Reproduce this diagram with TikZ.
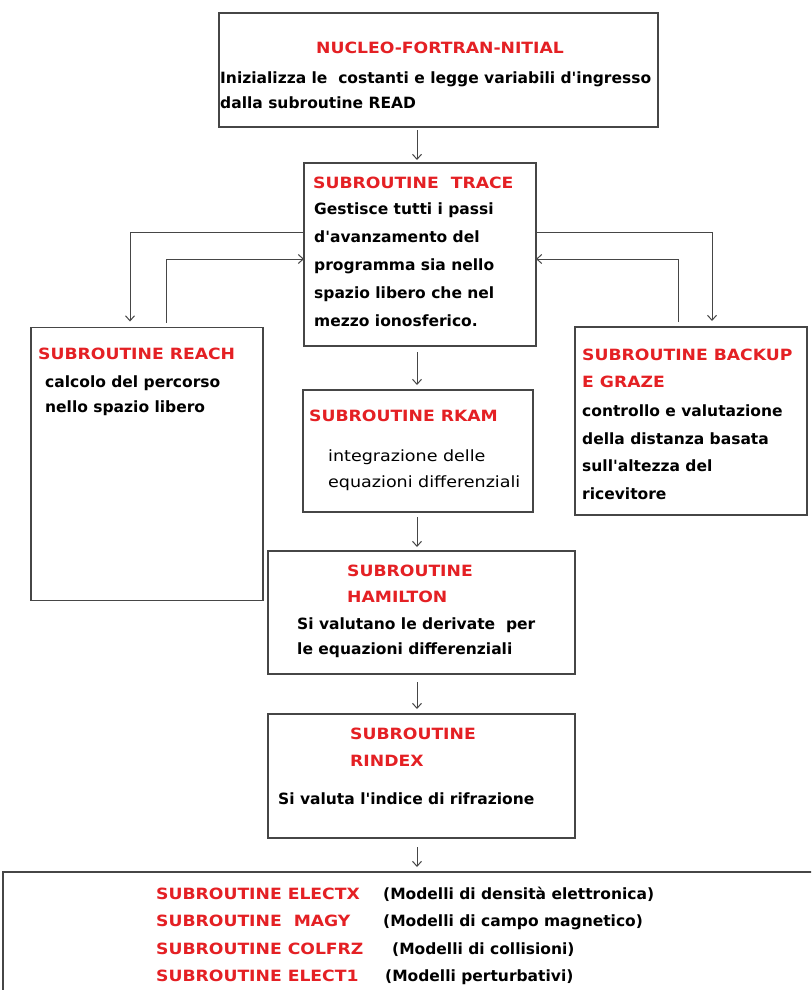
\documentclass[tikz,border=0pt]{standalone}
\usepackage{fontspec}
\setmainfont{DejaVu Sans}
\newfontfamily\ttlfont{DejaVu Sans}[FakeStretch=1.11]
\newfontfamily\regfont{DejaVu Sans}[FakeStretch=1.13]
\usetikzlibrary{arrows.meta}
\definecolor{redt}{RGB}{228,32,36}
\definecolor{linec}{RGB}{70,70,70}
\newcommand{\aq}{\textquotesingle}
\begin{document}
\begin{tikzpicture}[x=1pt,y=-1pt,
 box/.style={draw=linec,line width=1.5pt,inner sep=0pt,outer sep=0pt,fill=white},
 tl/.style={anchor=west,inner sep=0pt,text height=12pt,text depth=3pt},
 ttl/.style={tl,text=redt,font=\fontsize{15.5}{18}\ttlfont\bfseries},
 txt/.style={tl,text=black,font=\fontsize{15.5}{18}\selectfont\bfseries},
 rtxt/.style={tl,text=black,font=\fontsize{15.5}{18}\regfont},
 arr/.style={draw=linec,line width=1pt,-{Straight Barb[length=5pt,width=9pt]}},
 ]
\useasboundingbox (0,0) rectangle (811,990);
\fill[white] (0,0) rectangle (811,990);
% boxes
\node[box,minimum width=439pt,minimum height=114pt] (nucleo) at (438.5,70) {};
\node[box,minimum width=232pt,minimum height=183pt] (trace) at (420,254.5) {};
\node[box,minimum width=232pt,minimum height=273pt] (reach) at (147,464) {};
\node[box,minimum width=232pt,minimum height=188pt] (backup) at (691,421) {};
\node[box,minimum width=230pt,minimum height=122pt] (rkam) at (418,451) {};
\node[box,minimum width=307pt,minimum height=123pt] (hamilton) at (421.5,612.5) {};
\node[box,minimum width=307pt,minimum height=124pt] (rindex) at (421.5,776) {};
\begin{scope}
\clip (0,0) rectangle (811,990);
\node[box,minimum width=814pt,minimum height=140pt] (bottom) at (410,942) {};
\end{scope}
% texts
\node[ttl,anchor=center] (t1) at (440,49) {NUCLEO-FORTRAN-NITIAL};
\node[txt] (t2) at (220,79) {Inizializza le\ \ costanti e legge variabili d\aq ingresso};
\node[txt] (t3) at (220,104) {dalla subroutine READ};

\node[ttl] (tr0) at (313,184) {SUBROUTINE\ \ TRACE};
\node[txt] (tr1) at (314,210) {Gestisce tutti i passi};
\node[txt] (tr2) at (314,238) {d\aq avanzamento del};
\node[txt] (tr3) at (314,266) {programma sia nello};
\node[txt] (tr4) at (314,294) {spazio libero che nel};
\node[txt] (tr5) at (314,322) {mezzo ionosferico.};

\node[ttl] (re0) at (38,355) {SUBROUTINE REACH};
\node[txt] (re1) at (45,383) {calcolo del percorso};
\node[txt] (re2) at (45,408) {nello spazio libero};

\node[ttl] (bk0) at (582,356) {SUBROUTINE BACKUP};
\node[ttl] (bk1) at (582,383) {E GRAZE};
\node[txt] (bk2) at (582,412) {controllo e valutazione};
\node[txt] (bk3) at (582,440) {della distanza basata};
\node[txt] (bk4) at (582,467) {sull\aq altezza del};
\node[txt] (bk5) at (582,495) {ricevitore};

\node[ttl] (rk0) at (309,417) {SUBROUTINE RKAM};
\node[rtxt] (rk1) at (328,457) {integrazione delle};
\node[rtxt] (rk2) at (328,483) {equazioni differenziali};

\node[ttl] (ha0) at (347,572) {SUBROUTINE};
\node[ttl] (ha1) at (347,598) {HAMILTON};
\node[txt] (ha2) at (297,625) {Si valutano le derivate\ \ per};
\node[txt] (ha3) at (297,650) {le equazioni differenziali};

\node[ttl] (ri0) at (350,735) {SUBROUTINE};
\node[ttl] (ri1) at (350,762) {RINDEX};
\node[txt] (ri2) at (278,800) {Si valuta l\aq indice di rifrazione};

\node[ttl] (b0) at (156,895) {SUBROUTINE ELECTX};
\node[txt] (b0m) at (383,895) {(Modelli di densità elettronica)};
\node[ttl] (b1) at (156,922) {SUBROUTINE\ \ MAGY};
\node[txt] (b1m) at (383,922) {(Modelli di campo magnetico)};
\node[ttl] (b2) at (156,950) {SUBROUTINE COLFRZ};
\node[txt] (b2m) at (392,950) {(Modelli di collisioni)};
\node[ttl] (b3) at (156,977) {SUBROUTINE ELECT1};
\node[txt] (b3m) at (385,977) {(Modelli perturbativi)};

% connectors
\coordinate (ax) at (417,0);
\coordinate (ly1) at (0,232);
\coordinate (ly2) at (0,259);
\coordinate (lx1) at (130,0);
\coordinate (lx2) at (166,0);
\coordinate (rx1) at (712,0);
\coordinate (rx2) at (678,0);
\draw[arr,shorten <=3pt,shorten >=3pt] (nucleo.south -| ax) -- (trace.north -| ax);
\draw[arr,shorten <=6pt,shorten >=5pt] (trace.south -| ax) -- (rkam.north -| ax);
\draw[arr,shorten <=5pt,shorten >=4pt] (rkam.south -| ax) -- (hamilton.north -| ax);
\draw[arr,shorten <=8pt,shorten >=5pt] (hamilton.south -| ax) -- (rindex.north -| ax);
\draw[arr,shorten <=9pt,shorten >=5pt] (rindex.south -| ax) -- (bottom.north -| ax);
\draw[arr,shorten >=6pt] (trace.west |- ly1) -| (reach.north -| lx1);
\draw[arr,shorten <=5pt] (reach.north -| lx2) |- (trace.west |- ly2);
\draw[arr,shorten >=6pt] (trace.east |- ly1) -| (backup.north -| rx1);
\draw[arr,shorten <=5pt] (backup.north -| rx2) |- (trace.east |- ly2);
\end{tikzpicture}
\end{document}
